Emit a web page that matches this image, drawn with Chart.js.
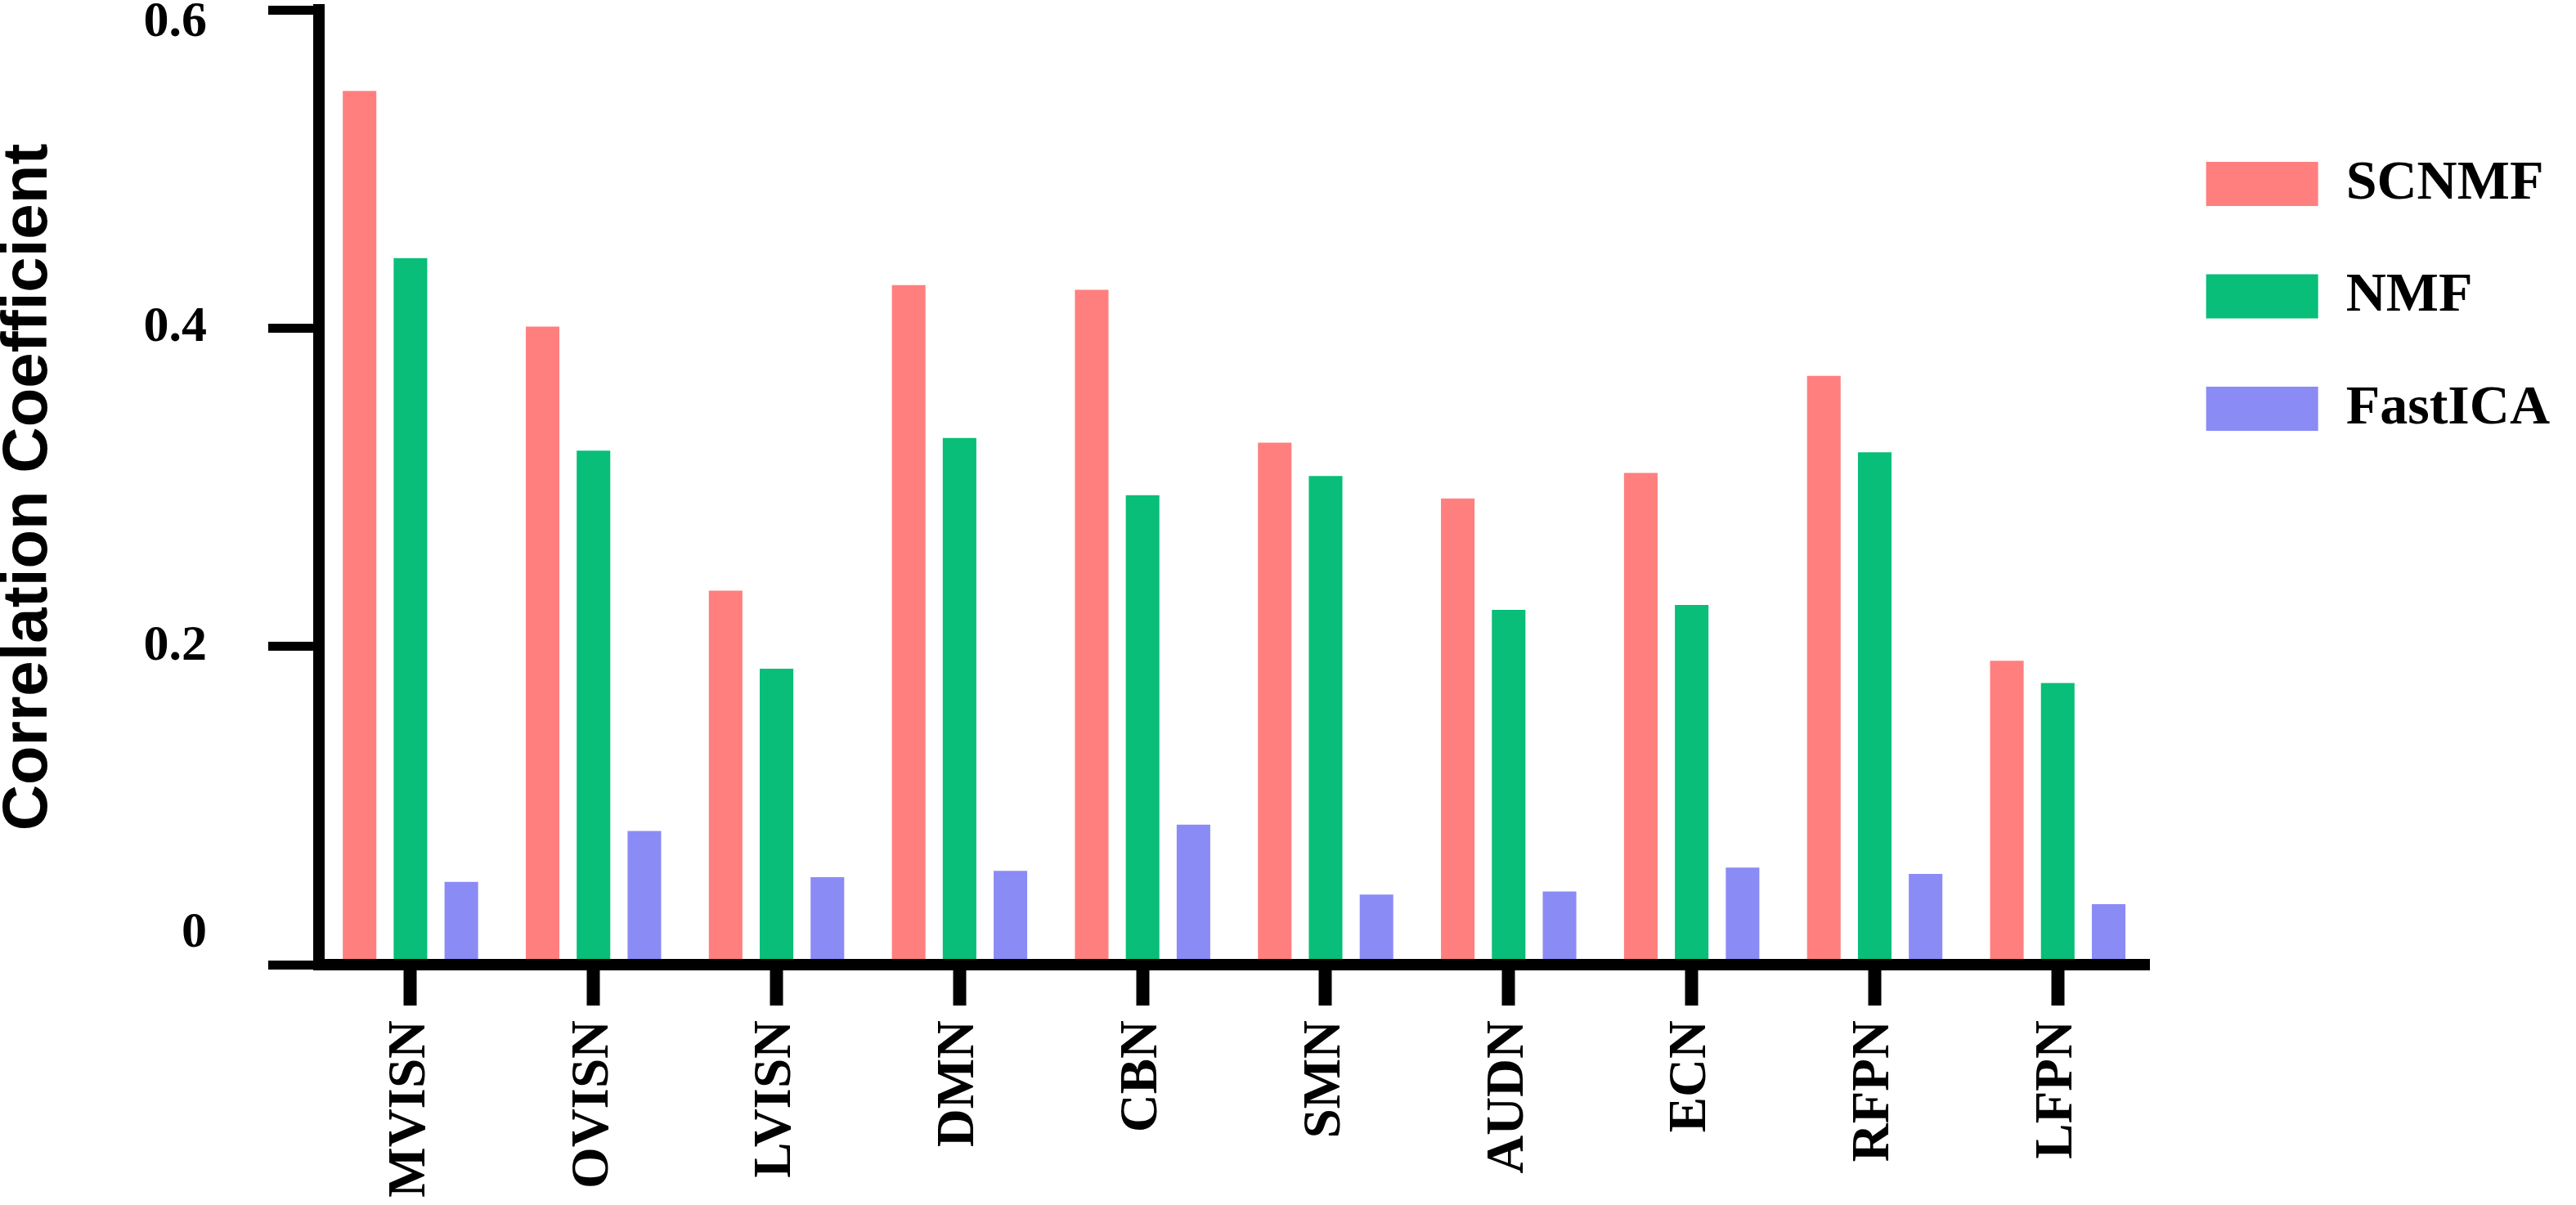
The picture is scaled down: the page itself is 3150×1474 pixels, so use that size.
<!DOCTYPE html>
<html>
<head>
<meta charset="utf-8">
<title>Correlation Coefficient</title>
<script src="https://cdn.jsdelivr.net/npm/chart.js@4"></script>
<style>
  html, body { margin: 0; padding: 0; background: #fff; }
  #wrap { width: 3150px; height: 1474px; position: relative; }
</style>
</head>
<body>
<div id="wrap"><canvas id="barChart"></canvas></div>
<script>
const networks = ['MVISN', 'OVISN', 'LVISN', 'DMN', 'CBN', 'SMN', 'AUDN', 'ECN', 'RFPN', 'LFPN'];
const scnmfValues = [0.549, 0.401, 0.235, 0.427, 0.424, 0.328, 0.293, 0.309, 0.370, 0.191];
const nmfValues = [0.444, 0.323, 0.186, 0.331, 0.295, 0.307, 0.223, 0.226, 0.322, 0.177];
const fastIcaValues = [0.052, 0.084, 0.055, 0.059, 0.088, 0.044, 0.046, 0.061, 0.057, 0.038];
const yTicks = [0, 0.2, 0.4, 0.6];

document.addEventListener('DOMContentLoaded', function () {
  const serif = "'Liberation Serif', 'Times New Roman', serif";
  const sans = "'Liberation Sans', Arial, sans-serif";

  function makeSet(label, values, color) {
    return {
      label: label,
      data: values,
      backgroundColor: color,
      borderWidth: 0,
      barPercentage: 0.66,
      categoryPercentage: 0.834
    };
  }

  const ctx = document.getElementById('barChart').getContext('2d');
  new Chart(ctx, {
    type: 'bar',
    data: {
      labels: networks,
      datasets: [
        makeSet('SCNMF', scnmfValues, '#FF7F7F'),
        makeSet('NMF', nmfValues, '#08BE78'),
        makeSet('FastICA', fastIcaValues, '#8B8BF6')
      ]
    },
    options: {
      responsive: true,
      maintainAspectRatio: false,
      animation: false,
      layout: { padding: { top: 12, right: 22, bottom: 0, left: 0 } },
      plugins: {
        tooltip: { enabled: false },
        legend: {
          position: 'right',
          align: 'start',
          // empty title only pushes the items down
          title: { display: true, text: ' ', font: { size: 10, lineHeight: 1 }, padding: { top: 99.5, bottom: 0 } },
          labels: {
            boxWidth: 137,
            boxHeight: 54,
            padding: 69.5,
            color: '#000',
            textAlign: 'left',
            font: { family: serif, size: 68, weight: 'bold' }
          }
        }
      },
      scales: {
        x: {
          offset: true,
          grid: { display: true, offset: false, drawOnChartArea: false, tickLength: 50, tickWidth: 16, tickColor: '#000' },
          border: { display: true, color: '#000', width: 14, z: 1 },
          ticks: {
            autoSkip: false,
            minRotation: 90,
            maxRotation: 90,
            padding: 18,
            color: '#000',
            font: { family: serif, size: 65, weight: 'bold' }
          },
          afterFit: function (scale) {
            scale.height = 294;
          }
        },
        y: {
          min: 0,
          max: 0.6,
          afterBuildTicks: function (scale) {
            scale.ticks = yTicks.map(v => ({ value: v }));
          },
          grid: { display: true, drawOnChartArea: false, tickLength: 62, tickWidth: 11, tickColor: '#000' },
          border: { display: true, color: '#000', width: 14 },
          ticks: {
            padding: 75,
            color: '#000',
            font: function (c) {
              const v = c.tick ? c.tick.value : 1;
              // the original nudges the end labels inward
              return { family: serif, size: 62, weight: 'bold', lineHeight: Math.abs(v - 0.6) < 1e-6 ? '32px' : '76px' };
            },
            callback: function (value) {
              if (value === 0) return ['0', ''];
              if (Math.abs(value - 0.6) < 1e-6) return ['', '0.6'];
              return value.toFixed(1);
            }
          },
          title: {
            display: true,
            text: 'Correlation Coefficient',
            color: '#000',
            font: { family: sans, size: 78, weight: 'bold', lineHeight: 0.9 },
            padding: { top: 0, bottom: 0 }
          },
          afterFit: function (scale) {
            scale.width = 390;
            scale.paddingTop = 0;
            scale.paddingBottom = 0;
          }
        }
      }
    }
  });
});
</script>
</body>
</html>
